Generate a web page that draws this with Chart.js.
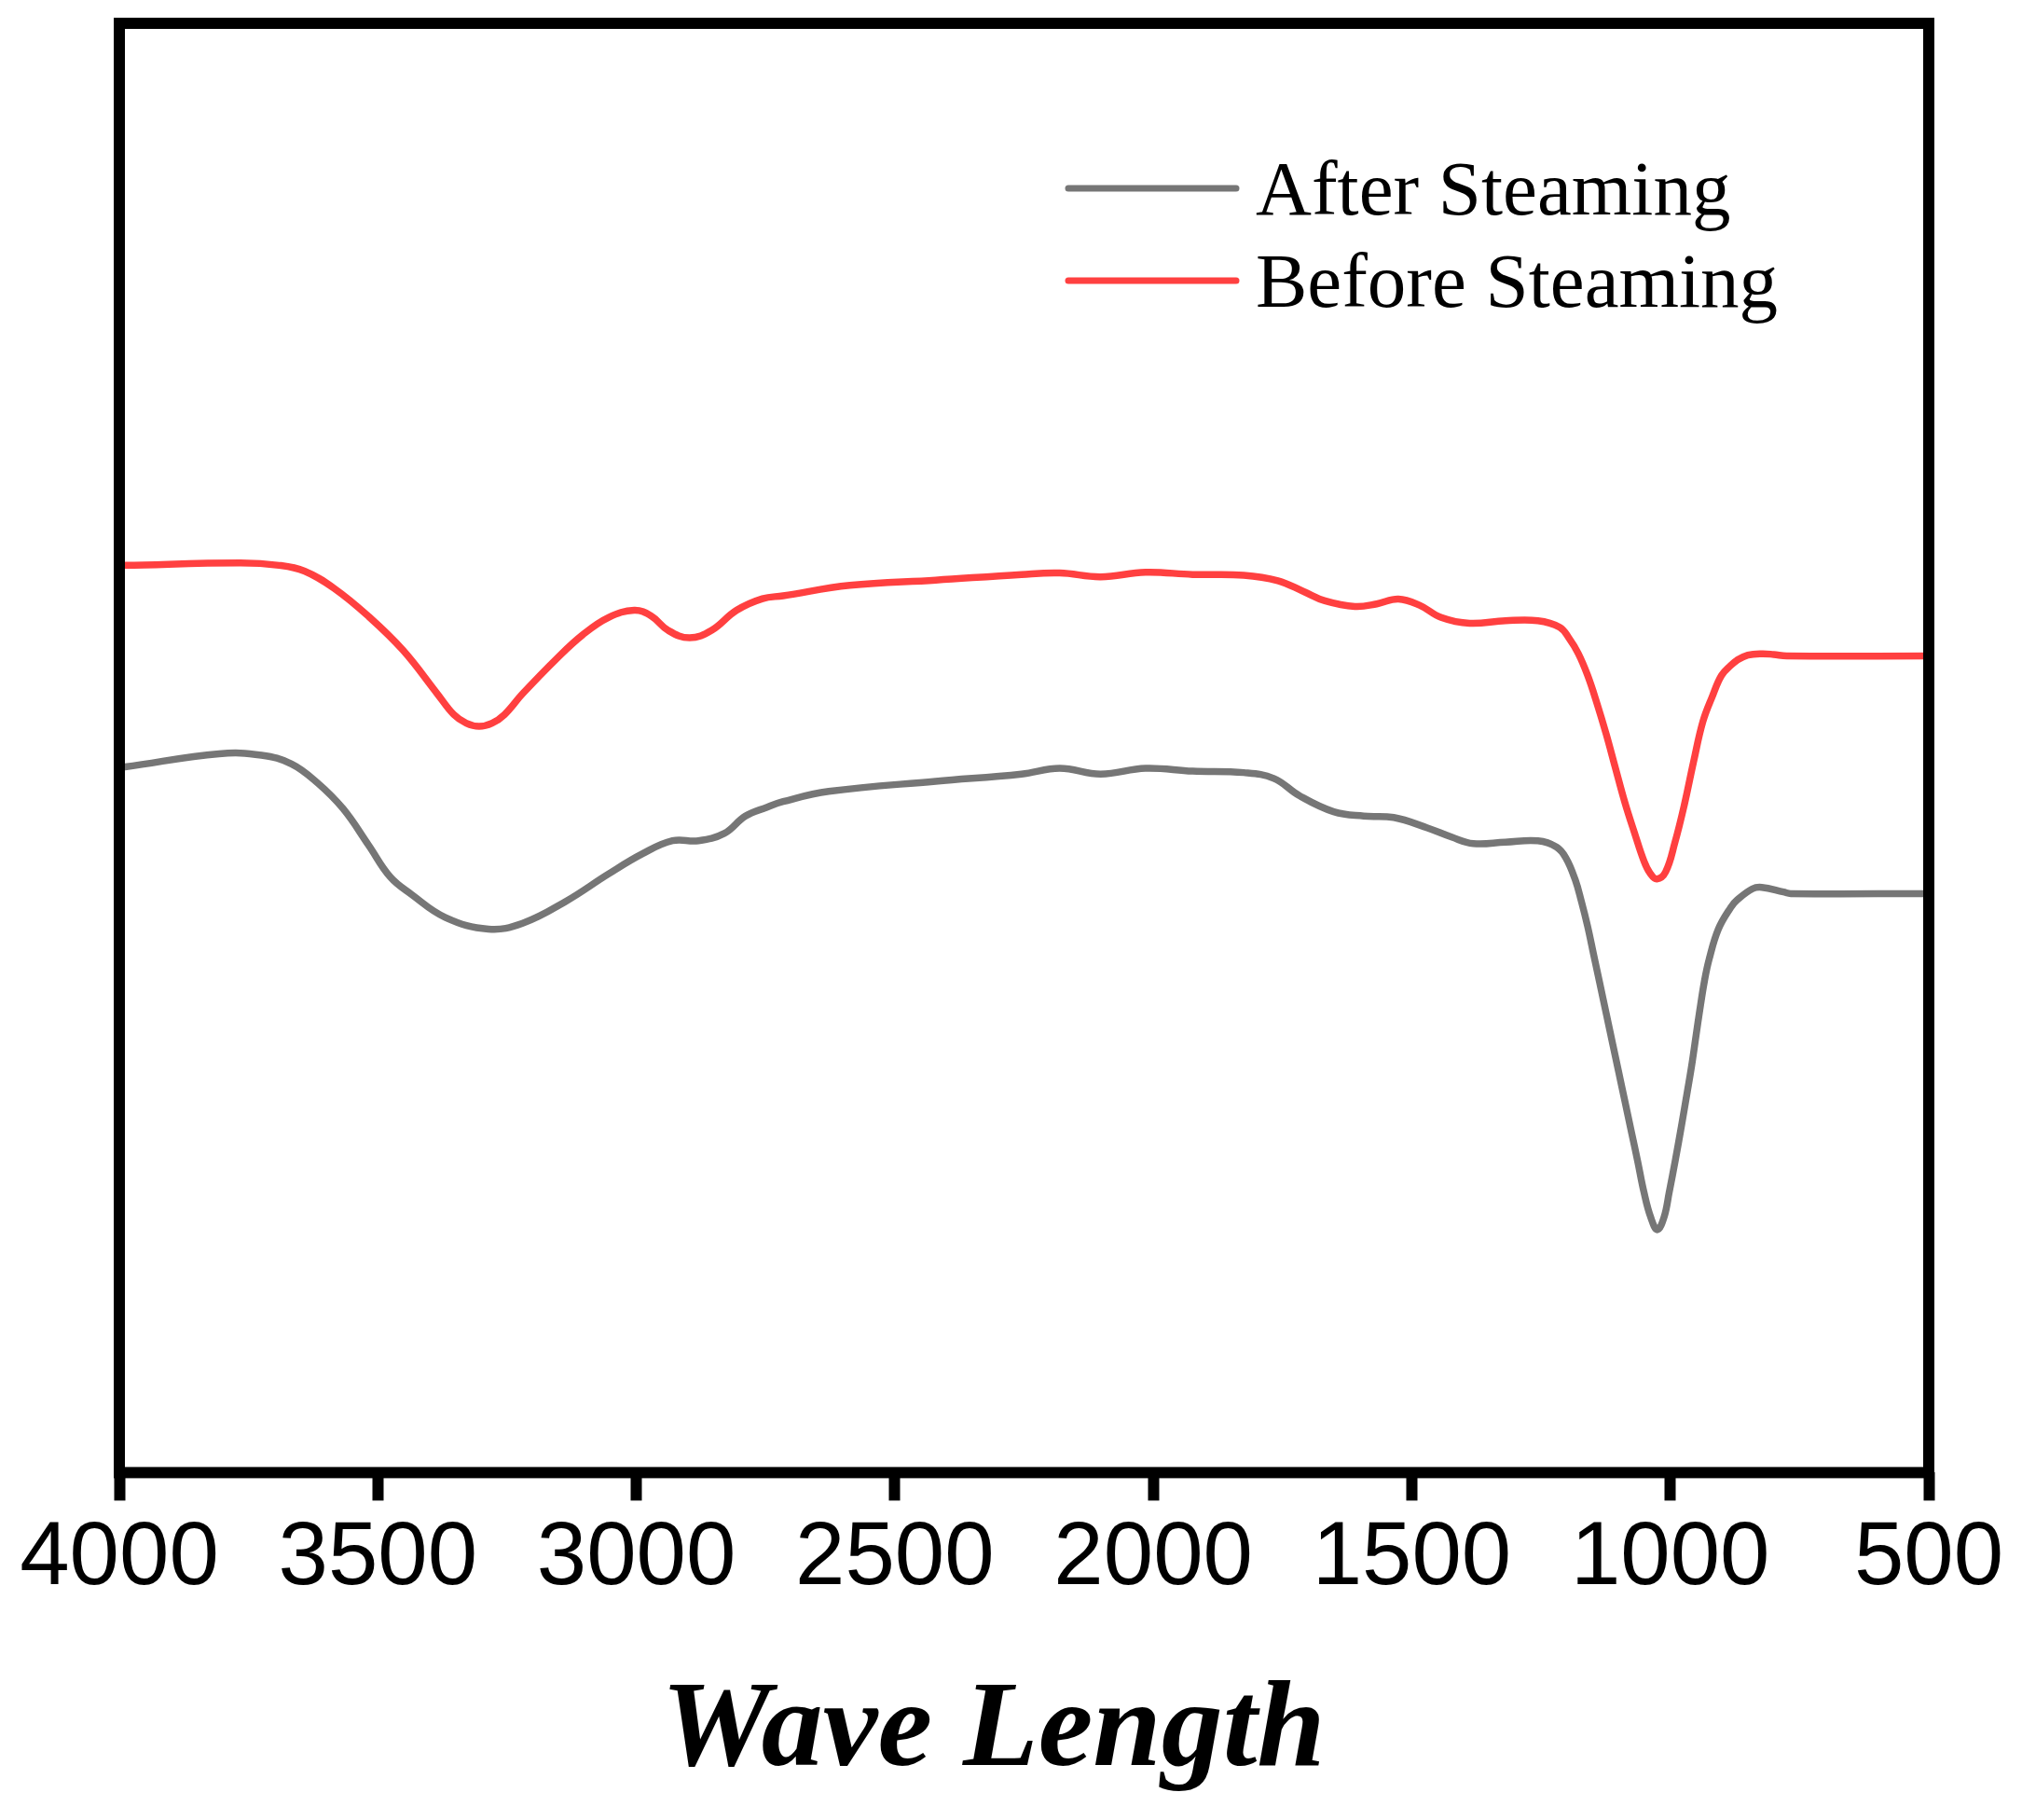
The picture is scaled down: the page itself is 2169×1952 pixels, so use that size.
<!DOCTYPE html>
<html>
<head>
<meta charset="utf-8">
<script src="https://cdn.jsdelivr.net/npm/chart.js@4"></script>
<style>
html,body{margin:0;padding:0;background:#fff;}
#wrap{width:2169px;height:1952px;}
</style>
</head>
<body>
<div id="wrap"><canvas id="c" width="2169" height="1952"></canvas></div>
<script>
// Wavenumber (cm^-1) and relative transmittance
const afterX = [4000,3989,3807,3725,3667,3617,3567,3518,3476,3435,3369,3286,3220,3137,3054,2988,2930,2880,2830,2789,2748,2716,2628,2421,2255,2181,2102,2015,1924,1825,1767,1717,1651,1593,1535,1471,1423,1381,1319,1256,1220,1202,1184,1172,1160,1148,1136,1124,1111,1100,1088,1075,1063,1051,1038,1025,1012,1002,990,978,967,959,950,943,934,925,907,883,871,841,823,781,767,500];
const afterY = [48.7,48.7,49.6,49.5,48.9,47.6,45.8,43.3,41.1,39.9,38.3,37.5,37.9,39.4,41.3,42.7,43.6,43.6,44.1,45.3,45.9,46.3,47.0,47.7,48.2,48.6,48.2,48.6,48.4,48.3,47.9,46.7,45.6,45.3,45.2,44.5,43.85,43.4,43.5,43.59,43.16,42.42,40.92,39.42,37.71,35.7,33.7,31.69,29.51,27.67,25.66,23.48,21.47,19.36,17.63,16.76,17.63,19.36,21.6,24.0,26.3,28.0,30.2,31.9,33.9,35.4,37.5,39.0,39.5,40.28,40.38,40.06,39.95,39.95];
const beforeX = [4000,3989,3766,3691,3642,3584,3518,3451,3385,3353,3329,3304,3279,3255,3220,3153,3104,3054,3004,2971,2938,2897,2855,2806,2756,2716,2587,2421,2255,2181,2102,2015,1924,1825,1759,1709,1668,1610,1568,1526,1485,1443,1388,1319,1256,1214,1196,1178,1160,1142,1124,1106,1088,1069,1051,1039,1026,1009,991,973,955,937,919,901,883,871,850,823,800,775,500];
const beforeY = [62.6,62.6,62.76,62.6,62.2,61.0,59.08,56.73,53.74,52.3,51.71,51.49,51.71,52.3,53.74,56.2,57.8,59.0,59.5,59.1,58.1,57.6,58.1,59.5,60.3,60.5,61.22,61.58,61.97,62.07,61.81,62.12,61.97,61.92,61.54,60.79,60.15,59.76,59.94,60.28,59.85,59.0,58.6,58.78,58.78,58.33,57.58,56.52,55.02,53.1,50.96,48.6,46.26,44.12,42.2,41.35,40.96,41.45,43.48,46.05,49.04,51.81,53.53,55.0,55.7,56.05,56.4,56.5,56.45,56.35,56.35];
const tickValues = [4000,3500,3000,2500,2000,1500,1000,500];
const seriesLabels = ['After Steaming','Before Steaming'];
const seriesColors = ['#767676','#FF4040'];
const xTitle = 'Wave Length';

const toPts = (xs, ys) => xs.map((x, i) => ({x: x, y: ys[i]}));

const framePlugin = {
  id: 'frame',
  afterDraw(chart) {
    const a = chart.chartArea, ctx = chart.ctx;
    ctx.save();
    ctx.strokeStyle = '#000';
    ctx.lineWidth = 12;
    ctx.lineJoin = 'miter';
    ctx.strokeRect(a.left, a.top, a.right - a.left, a.bottom - a.top);
    ctx.restore();
  }
};

const legendPlugin = {
  id: 'innerLegend',
  afterDraw(chart) {
    const ctx = chart.ctx;
    ctx.save();
    ctx.font = '83px "Liberation Serif", "Times New Roman", serif';
    ctx.textBaseline = 'alphabetic';
    ctx.textAlign = 'left';
    const rows = [202, 301];
    chart.data.datasets.forEach((ds, i) => {
      const y = rows[i];
      ctx.strokeStyle = ds.borderColor;
      ctx.lineWidth = 7;
      ctx.lineCap = 'round';
      ctx.beginPath();
      ctx.moveTo(1146, y);
      ctx.lineTo(1326, y);
      ctx.stroke();
      ctx.fillStyle = '#000';
      ctx.fillText(ds.label, 1347, y + 28);
    });
    ctx.restore();
  }
};

new Chart(document.getElementById('c'), {
  type: 'line',
  data: {
    datasets: [
      {label: seriesLabels[0], data: toPts(afterX, afterY), borderColor: seriesColors[0], borderWidth: 7.5, pointRadius: 0, fill: false, tension: 0.4},
      {label: seriesLabels[1], data: toPts(beforeX, beforeY), borderColor: seriesColors[1], borderWidth: 7.5, pointRadius: 0, fill: false, tension: 0.4}
    ]
  },
  options: {
    responsive: false,
    devicePixelRatio: 1,
    animation: false,
    layout: {padding: {left: 128, right: 100, top: 25, bottom: 14}},
    plugins: {legend: {display: false}, tooltip: {enabled: false}},
    scales: {
      x: {
        type: 'linear',
        reverse: true,
        min: 500,
        max: 4000,
        afterBuildTicks: (s) => { s.ticks = tickValues.map(v => ({value: v})); },
        border: {display: false},
        grid: {display: true, drawOnChartArea: false, drawTicks: true, tickLength: 30, tickWidth: 12, tickColor: '#000'},
        ticks: {
          callback: (v) => String(v),
          color: '#000',
          padding: 6,
          maxRotation: 0,
          autoSkip: false,
          font: {family: '"Liberation Sans", Arial, sans-serif', size: 96}
        },
        title: {
          display: true,
          text: xTitle + '\u00A0\u00A0',
          color: '#000',
          padding: {top: 43, bottom: 0},
          font: {family: '"Liberation Serif", "Times New Roman", serif', size: 132, weight: 'bold', style: 'italic'}
        }
      },
      y: {
        type: 'linear',
        min: 0,
        max: 100,
        display: false
      }
    }
  },
  plugins: [framePlugin, legendPlugin]
});
</script>
</body>
</html>
